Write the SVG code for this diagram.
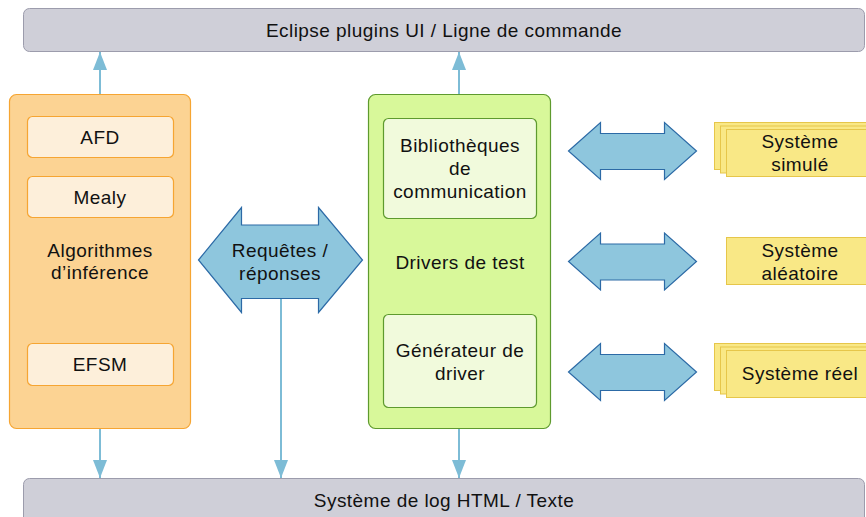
<svg xmlns="http://www.w3.org/2000/svg" width="866" height="517" viewBox="0 0 866 517">
<defs>
<style>
text{font-family:"Liberation Sans",Arial,sans-serif;font-size:19px;letter-spacing:0.45px;fill:#111;text-anchor:middle}
.bar{fill:#cfcfd8;stroke:#9c9cac;stroke-width:1}
.orange{fill:#fcd393;stroke:#f6a532;stroke-width:1.2}
.osub{fill:#fdefda;stroke:#f6a532;stroke-width:1.2}
.green{fill:#d8f89a;stroke:#5e9a2e;stroke-width:1.2}
.gsub{fill:#f1fadc;stroke:#5e9a2e;stroke-width:1.2}
.dbl{fill:#8ec6dd;stroke:#2c6aa6;stroke-width:1.2}
.yel{fill:#f9e886;stroke:#e6c64a;stroke-width:1}
.conn{stroke:#7dbcd6;stroke-width:2;fill:none}
</style>
<marker id="ah2" viewBox="0 0 18 14" refX="18" refY="7" markerWidth="18" markerHeight="14" markerUnits="userSpaceOnUse" orient="auto">
<path d="M0,0 L18,7 L0,14 z" fill="#7dbcd6"/>
</marker>
</defs>

<g id="top-bar">
<rect class="bar" x="23.5" y="8.5" width="841" height="43" rx="6"/>
<text x="444" y="37">Eclipse plugins UI / Ligne de commande</text>
</g>

<g id="bottom-bar">
<rect class="bar" x="23.5" y="478.5" width="841" height="50" rx="6"/>
<text x="444" y="507">Système de log HTML / Texte</text>
</g>

<g id="algorithmes">
<rect class="orange" x="9.5" y="94.5" width="181" height="334" rx="7"/>
<text x="100" y="257">Algorithmes</text>
<text x="100" y="279">d’inférence</text>
</g>
<g id="afd">
<rect class="osub" x="27.5" y="116.5" width="146" height="41" rx="5"/>
<text x="100" y="144">AFD</text>
</g>
<g id="mealy">
<rect class="osub" x="27.5" y="176.5" width="146" height="41" rx="5"/>
<text x="100" y="204">Mealy</text>
</g>
<g id="efsm">
<rect class="osub" x="27.5" y="343.5" width="146" height="42" rx="5"/>
<text x="100" y="371">EFSM</text>
</g>

<g id="requetes">
<path class="dbl" d="M198.5,260 L241.5,207.5 L241.5,225 L318.5,225 L318.5,207.5 L362.5,260 L318.5,312.5 L318.5,298.5 L241.5,298.5 L241.5,312.5 Z"/>
<text x="280" y="257">Requêtes /</text>
<text x="280" y="280">réponses</text>
</g>

<g id="drivers">
<rect class="green" x="368.5" y="94.5" width="182" height="334" rx="7"/>
<text x="460" y="269">Drivers de test</text>
</g>
<g id="bibliotheques">
<rect class="gsub" x="383.5" y="118.5" width="153" height="100" rx="5"/>
<text x="460" y="152">Bibliothèques</text>
<text x="460" y="175">de</text>
<text x="460" y="198">communication</text>
</g>
<g id="generateur">
<rect class="gsub" x="383.5" y="314.5" width="153" height="93" rx="5"/>
<text x="460" y="357">Générateur de</text>
<text x="460" y="380">driver</text>
</g>

<g id="arrow-simule">
<path class="dbl" d="M568.5,151 L600.5,122.5 L600.5,133.5 L664.5,133.5 L664.5,122.5 L696.5,151 L664.5,179.5 L664.5,169.5 L600.5,169.5 L600.5,179.5 Z"/>
</g>
<g id="arrow-aleatoire">
<path class="dbl" d="M568.5,261.5 L600.5,233 L600.5,244 L664.5,244 L664.5,233 L696.5,261.5 L664.5,290 L664.5,280 L600.5,280 L600.5,290 Z"/>
</g>
<g id="arrow-reel">
<path class="dbl" d="M568.5,372 L600.5,343.5 L600.5,354.5 L664.5,354.5 L664.5,343.5 L696.5,372 L664.5,400.5 L664.5,390.5 L600.5,390.5 L600.5,400.5 Z"/>
</g>

<g id="systeme-simule">
<rect class="yel" x="714.5" y="122.5" width="160" height="47"/>
<rect class="yel" x="720.5" y="126" width="160" height="47"/>
<rect class="yel" x="726.5" y="129.5" width="160" height="47"/>
<text x="800" y="148">Système</text>
<text x="800" y="171">simulé</text>
</g>
<g id="systeme-aleatoire">
<rect class="yel" x="726.5" y="237.5" width="160" height="47"/>
<text x="800" y="257">Système</text>
<text x="800" y="280">aléatoire</text>
</g>
<g id="systeme-reel">
<rect class="yel" x="714.5" y="343.5" width="160" height="47"/>
<rect class="yel" x="720.5" y="347" width="160" height="47"/>
<rect class="yel" x="726.5" y="350.5" width="160" height="47"/>
<text x="800" y="380">Système réel</text>
</g>

<g id="connectors">
<line class="conn" x1="100" y1="94" x2="100" y2="52" marker-end="url(#ah2)"/>
<line class="conn" x1="459" y1="94" x2="459" y2="52" marker-end="url(#ah2)"/>
<line class="conn" x1="100" y1="429" x2="100" y2="478" marker-end="url(#ah2)"/>
<line class="conn" x1="281" y1="299" x2="281" y2="478" marker-end="url(#ah2)"/>
<line class="conn" x1="459" y1="429" x2="459" y2="478" marker-end="url(#ah2)"/>
</g>
</svg>
